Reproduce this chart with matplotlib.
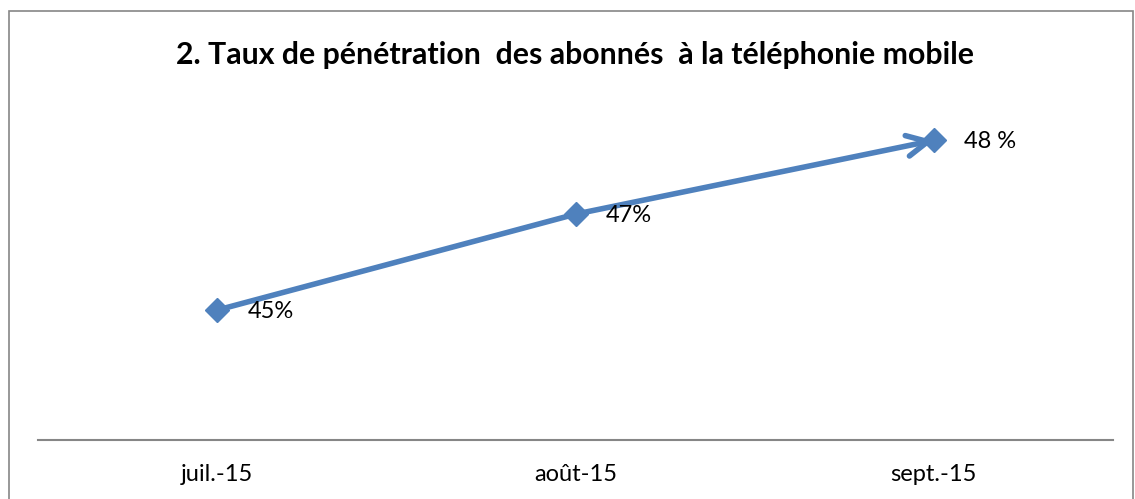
import matplotlib.pyplot as plt
from matplotlib.patches import Rectangle

# --- Données ---
mois = ["juil.-15", "août-15", "sept.-15"]
taux = [44.95, 46.9, 48.4]
etiquettes = ["45%", "47%", "48 %"]

titre = "2. Taux de pénétration  des abonnés  à la téléphonie mobile"
bleu = "#4F81BD"
gris = "#868686"

plt.rcParams['font.family'] = ['Lato', 'DejaVu Sans']

fig = plt.figure(figsize=(11.35, 4.99), dpi=100)

# cadre du graphique
fig.patches.append(Rectangle((9 / 1135, -0.1), 1124 / 1135, (499 - 11) / 499 + 0.1,
                             transform=fig.transFigure, fill=False,
                             edgecolor=gris, lw=1.2))

ax = fig.add_axes([38 / 1135, 59 / 499, 1075 / 1135, 340 / 499])
x = list(range(len(mois)))

ax.plot(x[:2], taux[:2], color=bleu, lw=4, zorder=3)
# fleche sur le dernier segment
ax.annotate('', xy=(x[2], taux[2]), xytext=(x[1], taux[1]),
            arrowprops=dict(arrowstyle='->,head_length=1.5,head_width=0.75',
                            color=bleu, lw=4, shrinkA=0, shrinkB=0,
                            capstyle='round', joinstyle='round'), zorder=3)
ax.plot(x, taux, ls='none', color=bleu, marker='D', ms=12, zorder=4)

for xi, yi, lab in zip(x, taux, etiquettes):
    ax.annotate(lab, (xi, yi), xytext=(22, -1), textcoords='offset points',
                ha='left', va='center', fontsize=17)

ax.set_xlim(-0.5, 2.5)
ax.set_ylim(42.31, 49.22)
ax.set_xticks(x)
ax.set_xticklabels(mois, fontsize=17)
ax.tick_params(axis='x', length=0, pad=17)
ax.set_yticks([])
for s in ['top', 'right', 'left']:
    ax.spines[s].set_visible(False)
ax.spines['bottom'].set_color(gris)
ax.spines['bottom'].set_linewidth(1.5)

fig.text(575 / 1135, 1 - 55 / 499, titre, ha='center', va='center',
         fontsize=21.8, fontweight='bold')

fig.savefig("out.png", dpi=100)
